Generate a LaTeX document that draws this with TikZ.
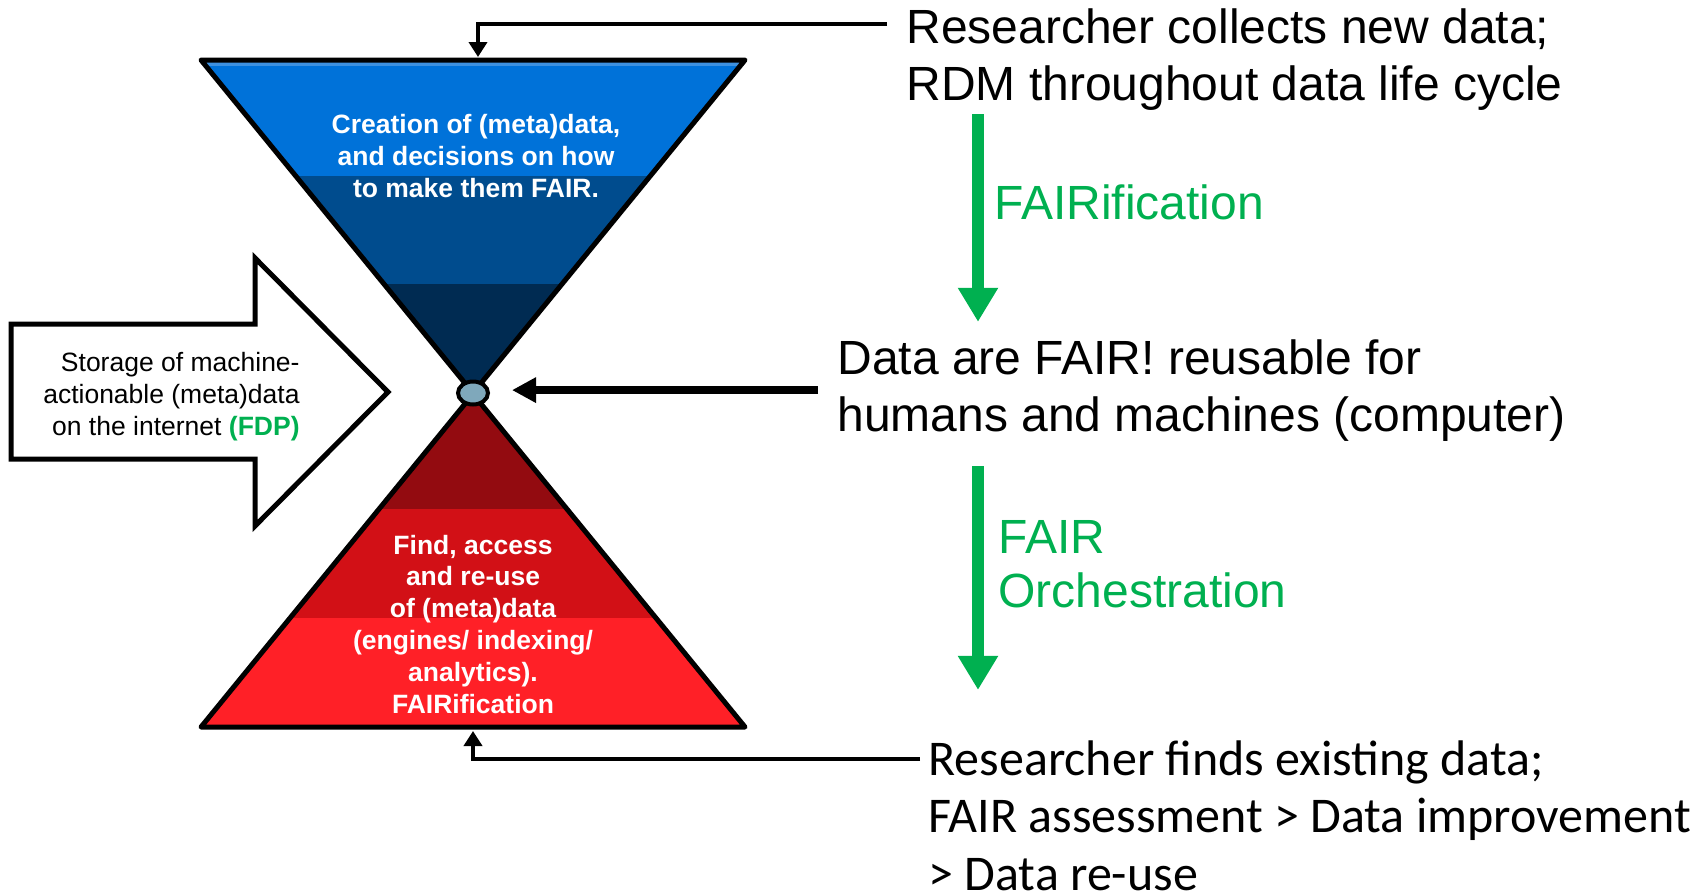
\documentclass[tikz,border=0pt]{standalone}
\usepackage{fontspec}
\setmainfont{Liberation Sans}
\newfontfamily\calibrifont{Carlito}
\usepackage{tikz}
\usetikzlibrary{arrows.meta,shapes.geometric}
\definecolor{bluetop}{HTML}{0072D9}
\definecolor{bluemid}{HTML}{004C8E}
\definecolor{bluedeep}{HTML}{002B52}
\definecolor{bluehi}{HTML}{3E91E0}
\definecolor{reddeep}{HTML}{930B10}
\definecolor{redmid}{HTML}{D21016}
\definecolor{redtop}{HTML}{FF2027}
\definecolor{hubgrey}{HTML}{7FA8BB}
\definecolor{fair}{HTML}{00B050}

\begin{document}
\begin{tikzpicture}[x=0.5pt, y=-0.5pt,
  bigtext/.style={inner sep=0pt, align=left, font=\fontsize{24}{28.5}\selectfont},
  greentext/.style={inner sep=0pt, align=left, text=fair, font=\fontsize{24}{27}\selectfont},
  tritext/.style={inner sep=0pt, align=center, text=white, font=\fontsize{13.25}{15.9}\selectfont\bfseries},
  link/.style={line width=2pt, -{Triangle[length=7.5pt, width=9pt]}},
  fairflow/.style={fair, line width=6pt, -{Triangle[length=17pt, width=19pt]}}]
\useasboundingbox (0,0) rectangle (1701,895);
\begin{scope}
\clip (201,60) -- (745,60) -- (473,393) -- cycle;
\fill[bluetop] (190,55) rectangle (760,176);
\fill[bluemid] (190,176) rectangle (760,284);
\fill[bluedeep] (190,284) rectangle (760,400);
\fill[bluehi] (190,62) rectangle (760,65.5);
\end{scope}
\draw[line width=2.5pt, line join=round] (201,60) -- (745,60) -- (473,393) -- cycle;
\begin{scope}
\clip (201,727) -- (745,727) -- (473,394) -- cycle;
\fill[reddeep] (190,385) rectangle (760,509);
\fill[redmid] (190,509) rectangle (760,618);
\fill[redtop] (190,618) rectangle (760,735);
\end{scope}
\draw[line width=2.5pt, line join=round] (201,727) -- (745,727) -- (473,394) -- cycle;
\node[draw, ellipse, line width=2pt, fill=hubgrey, minimum width=15pt, minimum height=11.5pt, inner sep=0pt] (hub) at (473,393) {};
\node[tritext, anchor=base] (create) at (476,197.5) {Creation of (meta)data,\\and decisions on how\\to make them FAIR.};
\node[tritext, anchor=base] (reuse) at (473,713) {Find, access\\and re-use\\of (meta)data\\(engines/ indexing/\\analytics).\\FAIRification};
\draw[line width=2.5pt, fill=white] (11,324) -- (255,324) -- (255,258) -- (388,392) -- (255,526) -- (255,459) -- (11,459) -- cycle;
\node[inner sep=0pt, align=right, anchor=base east, font=\fontsize{13.25}{15.9}\selectfont] (store) at (300,435) {Storage of machine-\\actionable (meta)data\\on the internet \textcolor{fair}{\bfseries(FDP)}};
\node[bigtext, anchor=base west] (collect) at (906,100) {Researcher collects new data;\\RDM throughout data life cycle};
\node[bigtext, anchor=base west] (ready) at (837,431) {Data are FAIR! reusable for\\humans and machines (computer)};
\node[inner sep=0pt, align=left, anchor=base west, font=\calibrifont\fontsize{25}{28.75}\selectfont] (finds) at (928,890) {Researcher finds existing data;\\FAIR assessment > Data improvement\\> Data re-use};
\node[greentext, anchor=base west] (fairify) at (994,219) {FAIRification};
\node[greentext, anchor=base west] (orchestrate) at (998,607) {FAIR\\Orchestration};
\coordinate (collectend) at (887,24);
\coordinate (funneltop) at (478,57);
\coordinate (findsend) at (920,759);
\coordinate (funnelbase) at (473,731);
\coordinate (fairx) at (978,0);
\draw[link] (collectend) -| (funneltop);
\draw[link] (findsend) -| (funnelbase);
\draw[line width=4pt, -{Triangle[length=12pt, width=12pt]}, shorten <=9.5pt, shorten >=11pt] (ready.west) -- (ready.west -| hub.east);
\draw[fairflow, shorten <=2pt, shorten >=8.5pt] (collect.south -| fairx) -- (ready.north -| fairx);
\draw[fairflow, shorten <=12.5pt, shorten >=25pt] (ready.south -| fairx) -- (finds.north -| fairx);
\end{tikzpicture}
\end{document}
